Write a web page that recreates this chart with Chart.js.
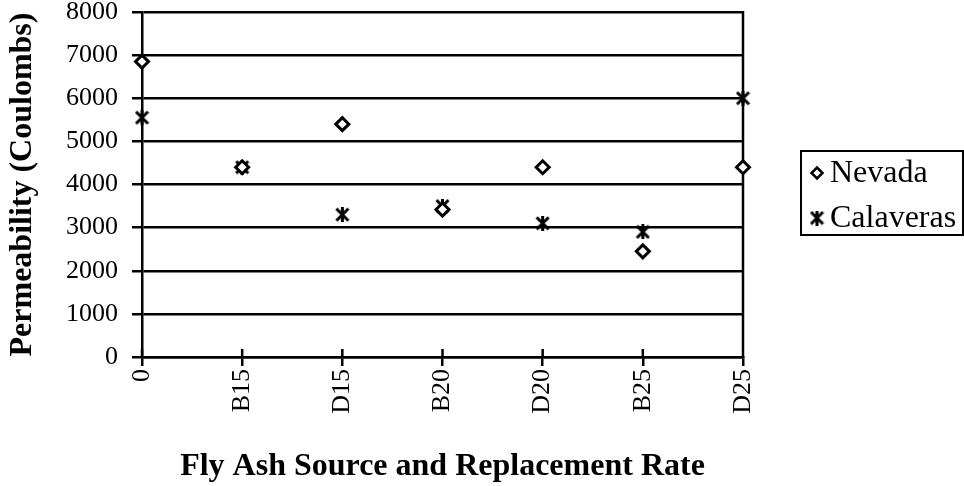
<!DOCTYPE html>
<html>
<head>
<meta charset="utf-8">
<script src="https://cdn.jsdelivr.net/npm/chart.js@4/dist/chart.umd.min.js"></script>
<style>
  html, body { margin: 0; padding: 0; background: #fff; }
  #wrap { width: 964px; height: 486px; position: relative; }
</style>
</head>
<body>
<div id="wrap"><canvas id="c" width="964" height="486"></canvas></div>
<script>
// Rapid chloride permeability by fly ash source / replacement rate
const categories = ['0', 'B15', 'D15', 'B20', 'D20', 'B25', 'D25'];
const nevada     = [6850, 4400, 5400, 3420, 4400, 2450, 4400];
const calaveras  = [5550, 4400, 3300, 3500, 3100, 2900, 6000];
const seriesNames = ['Nevada', 'Calaveras'];
const yMin = 0, yMax = 8000, yStep = 1000;
const xTitle = 'Fly Ash Source and Replacement Rate';
const yTitle = 'Permeability (Coulombs)';

const SERIF = "'Liberation Serif', 'Times New Roman', serif";

// asterisk-style marker: an X crossed by a vertical stroke
function makeStar(size, lw) {
  const c = document.createElement('canvas');
  c.width = size; c.height = size;
  const g = c.getContext('2d');
  g.strokeStyle = '#000';
  g.lineWidth = lw;
  const m = lw / 2, e = size - lw / 2, h = size / 2;
  g.beginPath();
  g.moveTo(m, m); g.lineTo(e, e);
  g.moveTo(e, m); g.lineTo(m, e);
  g.moveTo(h, 0); g.lineTo(h, size);
  g.stroke();
  return c;
}
const starMark = makeStar(15, 3);

function drawDiamond(ctx, x, y, r, lw) {
  ctx.save();
  ctx.strokeStyle = '#000';
  ctx.fillStyle = '#fff';
  ctx.lineWidth = lw;
  ctx.beginPath();
  ctx.moveTo(x, y - r); ctx.lineTo(x + r, y); ctx.lineTo(x, y + r); ctx.lineTo(x - r, y);
  ctx.closePath();
  ctx.fill(); ctx.stroke();
  ctx.restore();
}

// right frame edge and the inner half of the category tick marks
const framePlugin = {
  id: 'frame',
  beforeDatasetsDraw(chart) {
    const { ctx, chartArea: a, scales: { x } } = chart;
    ctx.save();
    ctx.strokeStyle = '#000';
    ctx.lineWidth = 2.5;
    ctx.beginPath();
    ctx.moveTo(a.right, a.top - 1);
    ctx.lineTo(a.right, a.bottom + 1);
    x.ticks.forEach((t, i) => {
      const px = x.getPixelForTick(i);
      ctx.moveTo(px, a.bottom);
      ctx.lineTo(px, a.bottom - 8);
    });
    ctx.stroke();
    ctx.restore();
  }
};

// boxed legend to the right of the plot
const legendBox = {
  id: 'legendBox',
  afterDraw(chart) {
    const ctx = chart.ctx;
    const bx = 801, by = 151, bw = 162, bh = 84;
    ctx.save();
    ctx.strokeStyle = '#000';
    ctx.lineWidth = 2;
    ctx.strokeRect(bx, by, bw, bh);
    ctx.fillStyle = '#000';
    ctx.font = '32px ' + SERIF;
    ctx.textBaseline = 'middle';
    ctx.textAlign = 'left';
    const rows = [173, 218];
    drawDiamond(ctx, 817, rows[0], 5.5, 2.5);
    ctx.fillText(seriesNames[0], 830, rows[0] + 1);
    ctx.drawImage(starMark, 817 - 7.5, rows[1] - 7.5);
    ctx.fillText(seriesNames[1], 830, rows[1] + 1);
    ctx.restore();
  }
};

new Chart(document.getElementById('c'), {
  type: 'line',
  data: {
    labels: categories,
    datasets: [
      {
        label: seriesNames[0],
        data: nevada,
        showLine: false,
        pointStyle: 'rectRot',
        pointRadius: 6.5,
        pointHoverRadius: 6.5,
        pointBorderWidth: 3,
        pointBorderColor: '#000',
        pointBackgroundColor: '#fff',
        clip: false
      },
      {
        label: seriesNames[1],
        data: calaveras,
        showLine: false,
        pointStyle: starMark,
        pointRadius: 7,
        pointHoverRadius: 7,
        pointBorderColor: '#000',
        pointBackgroundColor: '#000',
        clip: false
      }
    ]
  },
  options: {
    responsive: false,
    devicePixelRatio: 1,
    animation: false,
    events: [],
    layout: { padding: { left: 0, right: 221, top: 12, bottom: 0 } },
    plugins: {
      legend: { display: false },
      tooltip: { enabled: false }
    },
    scales: {
      x: {
        offset: false,
        border: { display: true, color: '#000', width: 2.5 },
        grid: { display: true, drawOnChartArea: false, drawTicks: true, tickLength: 9, color: '#000', lineWidth: 2.5 },
        ticks: {
          color: '#000',
          font: { family: SERIF, size: 26 },
          minRotation: 90,
          maxRotation: 90,
          autoSkip: false,
          padding: 3
        },
        title: {
          display: true,
          text: xTitle,
          color: '#000',
          font: { family: SERIF, size: 32, weight: 'bold' },
          padding: { top: 0, bottom: 0 }
        },
        afterFit(scale) {
          scale.height = 129;
          scale.paddingLeft = 0;
          scale.paddingRight = 0;
        }
      },
      y: {
        min: yMin,
        max: yMax,
        border: { display: true, color: '#000', width: 2.5 },
        grid: { color: '#000', lineWidth: 2.5, tickLength: 10, drawTicks: true },
        ticks: {
          stepSize: yStep,
          autoSkip: false,
          color: '#000',
          font: { family: SERIF, size: 26 },
          padding: 14,
          callback: v => String(v)
        },
        title: {
          display: true,
          text: yTitle,
          color: '#000',
          font: { family: SERIF, size: 32, weight: 'bold' },
          padding: { top: 4, bottom: 0 }
        },
        afterFit(scale) {
          scale.width = 142;
          scale.paddingTop = 0;
          scale.paddingBottom = 0;
        }
      }
    }
  },
  plugins: [framePlugin, legendBox]
});
</script>
</body>
</html>
